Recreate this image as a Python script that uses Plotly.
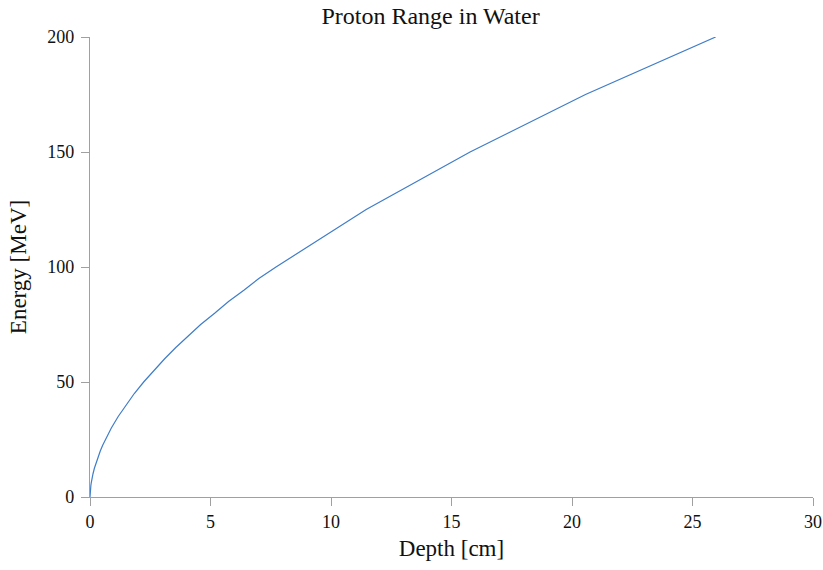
import plotly.graph_objects as go

# NIST PSTAR CSDA range of protons in water
energy_mev = [0, 1, 2, 3, 4, 5, 6, 7, 8, 9, 10, 12.5, 15, 17.5, 20, 22.5, 25, 27.5, 30,
              35, 40, 45, 50, 55, 60, 65, 70, 75, 80, 85, 90, 95, 100, 125, 150, 175, 200]
depth_cm = [0, 0.002458, 0.007555, 0.01500, 0.02470, 0.03623, 0.04963, 0.06471, 0.08150,
            0.1000, 0.1230, 0.1823, 0.2539, 0.3370, 0.4260, 0.5260, 0.6370, 0.7570, 0.8853,
            1.170, 1.489, 1.838, 2.227, 2.644, 3.089, 3.560, 4.080, 4.592, 5.184, 5.748,
            6.398, 7.006, 7.718, 11.46, 15.77, 20.56, 25.96]

x_ticks = [0, 5, 10, 15, 20, 25, 30]
y_ticks = [0, 50, 100, 150, 200]

FONT = "Liberation Serif"
AX = "#a0a0a0"

fig = go.Figure()
fig.add_trace(go.Scatter(x=depth_cm, y=energy_mev, mode="lines",
                         line=dict(color="#3f7dc8", width=1.2), showlegend=False))

fig.update_layout(
    width=823, height=570,
    margin=dict(l=90, r=10, t=37, b=73, autoexpand=False),
    paper_bgcolor="white", plot_bgcolor="white",
    font=dict(family=FONT, color="#111111", size=18),
    title=dict(text="Proton Range in Water", xref="paper", x=0.471, xanchor="center",
               y=0.988, yanchor="top",
               font=dict(family=FONT, size=24, color="#111111")),
    xaxis=dict(range=[0, 30], tickvals=x_ticks, showgrid=False, zeroline=False,
               showline=True, linecolor=AX, linewidth=1.2, ticks="outside", ticklen=8,
               tickcolor=AX, tickwidth=1.2, tickfont=dict(size=18),
               title=dict(text="Depth [cm]", font=dict(size=23), standoff=9)),
    yaxis=dict(range=[0, 200], tickvals=y_ticks, showgrid=False, zeroline=False,
               showline=True, linecolor=AX, linewidth=1.2, ticks="outside", ticklen=8,
               tickcolor=AX, tickwidth=1.2, tickfont=dict(size=18), ticklabelstandoff=3,
               title=dict(text="Energy [MeV]", font=dict(size=23), standoff=14)),
)

fig.write_html("out.html", config={"displayModeBar": False},
               post_script="document.body.style.margin='0';document.body.style.overflow='hidden';")
